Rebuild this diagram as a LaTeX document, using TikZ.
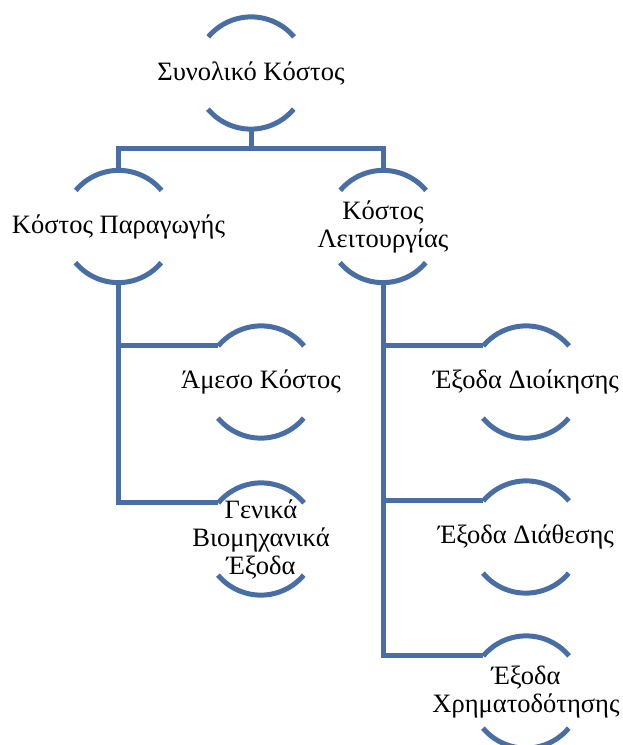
\documentclass[tikz,border=0pt]{standalone}
\usepackage{fontspec}
\setmainfont{Liberation Serif}
\definecolor{lineblue}{RGB}{72,110,165}
\tikzset{
  cnode/.style={circle, minimum size=112pt, inner sep=0pt, draw=none,
    label={[align=center, font=\fontsize{26.5}{28}\selectfont, inner sep=0pt]center:#1}},
  arcline/.style={draw=lineblue, line width=5pt},
  conn/.style={draw=lineblue, line width=5pt, line join=miter}
}
\begin{document}
\begin{tikzpicture}[x=1pt,y=1pt]
\useasboundingbox (0,0) rectangle (622,-745);
\clip (0,0) rectangle (622,-745);
\node[cnode={Συνολικό Κόστος}] (top) at (251,-73) {};
\node[cnode={Κόστος Παραγωγής}] (kp) at (118.5,-226.5) {};
\node[cnode={Κόστος\\Λειτουργίας}] (kl) at (383,-226.5) {};
\node[cnode={Άμεσο Κόστος}] (am) at (261,-382) {};
\node[cnode={Γενικά\\Βιομηχανικά\\Έξοδα}] (gb) at (261,-539) {};
\node[cnode={Έξοδα Διοίκησης}] (ed) at (526,-382) {};
\node[cnode={Έξοδα Διάθεσης}] (eth) at (526,-537) {};
\node[cnode={Έξοδα\\Χρηματοδότησης}] (ex) at (526,-692) {};
\foreach \n in {top,kp,kl,am,gb,ed,eth,ex}{
  \draw[arcline] (\n.40) arc[start angle=40,end angle=140,radius=56];
  \draw[arcline] (\n.220) arc[start angle=220,end angle=320,radius=56];
}
\draw[conn] (top.south) -- ++(0,-19) -| (kp.north);
\draw[conn] (top.south) -- ++(0,-19) -| (kl.north);
\draw[conn] (kp.south) |- (am.140);
\draw[conn] (kp.south) |- (gb.140);
\draw[conn] (kl.south) |- (ed.140);
\draw[conn] (kl.south) |- (eth.140);
\draw[conn] (kl.south) |- (ex.140);
\end{tikzpicture}
\end{document}
